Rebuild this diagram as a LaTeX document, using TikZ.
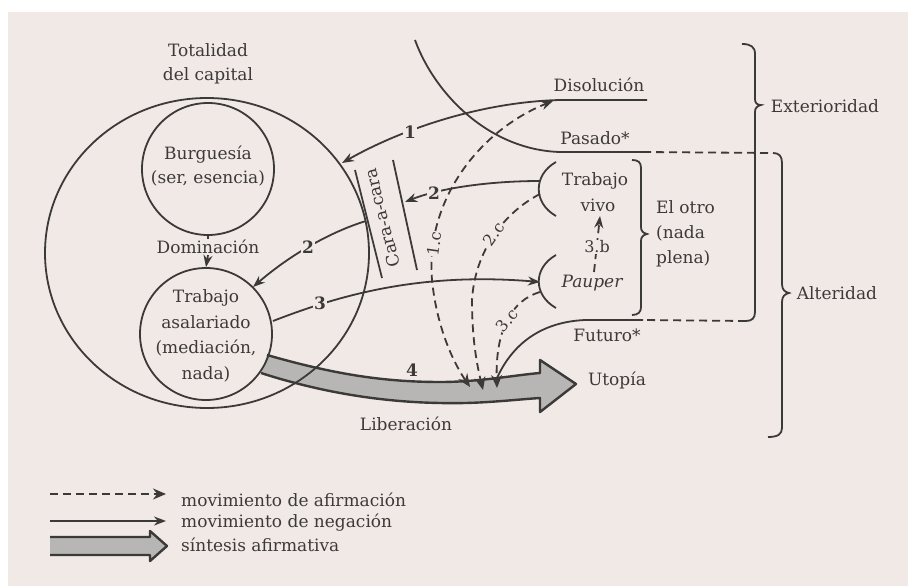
\documentclass[tikz,border=0pt]{standalone}
\usepackage{fontspec}
\setmainfont{DejaVu Serif}
\usetikzlibrary{arrows.meta,shapes.geometric}
\definecolor{bg}{RGB}{241,233,229}
\definecolor{ink}{RGB}{60,57,57}
\definecolor{band}{RGB}{184,182,181}
\begin{document}
\begin{tikzpicture}[x=1pt,y=-1pt,
  every node/.style={text=ink,font=\fontsize{17}{24.5}\selectfont,inner sep=1pt},
  lbl/.style={fill=bg,inner sep=1.5pt,font=\fontsize{17}{20}\selectfont\bfseries},
  slbl/.style={fill=bg,inner sep=0.5pt,font=\fontsize{16}{20}\selectfont},
  ln/.style={draw=ink,line width=1.8pt},
  tip/.style={-{Stealth[length=12pt,width=9pt]}},
  neg/.style={ln,tip},
  dsh/.style={dash pattern=on 8pt off 5pt},
  afi/.style={ln,dsh,-{Stealth[length=13pt,width=11pt]}},
  ring/.style={draw=ink,line width=1.8pt,circle,minimum size=132pt,inner sep=0pt},
  txt/.style={align=center},
  bandfill/.style={fill=band},
  bandline/.style={draw=ink,line width=2.4pt,line join=round}
]
\useasboundingbox (0,0) rectangle (908,586);
\fill[white] (0,0) rectangle (908,586);
\fill[bg] (8,12) rectangle (908,586);

% ---- grey synthesis arrow (4)
\fill[bandfill] (267,355) .. controls (330,373) and (380,382) .. (440,382)
  .. controls (480,382) and (515,375) .. (540,373) -- (540,360) -- (576,384)
  -- (540,412) -- (540,398) .. controls (510,400) and (480,404) .. (440,403)
  .. controls (380,402) and (320,392) .. (261,373) -- cycle;
\draw[bandline] (267,355) .. controls (330,373) and (380,382) .. (440,382)
  .. controls (480,382) and (515,375) .. (540,373) -- (540,360) -- (576,384)
  -- (540,412) -- (540,398) .. controls (510,400) and (480,404) .. (440,403)
  .. controls (380,402) and (320,392) .. (261,373);

% ---- circles
\node[draw=ink,line width=1.8pt,ellipse,minimum width=324pt,minimum height=310pt,inner sep=0pt] (cap) at (207,253) {};
\node[txt] (tot) at (208,64) {Totalidad\\del capital};
\node[ring] (bur) at (208,169) {};
\node[txt] (burt) at (208,166) {Burguesía\\(ser, esencia)};
\node[ring] (tra) at (206,334) {};
\node[txt,font=\fontsize{17}{25.5}\selectfont] (trat) at (206,336) {Trabajo\\asalariado\\(mediación,\\nada)};
\node (dom) at (208,247) {Dominación};
\draw[ln] (bur.south) -- (dom.north);
\draw[neg] (dom.south) -- (tra.north);

% ---- cara-a-cara
\coordinate (ca1) at (355,170); \coordinate (ca2) at (382,278);
\coordinate (cb1) at (393,160); \coordinate (cb2) at (417,270);
\draw[ln] (ca1) -- (ca2);
\draw[ln] (cb1) -- (cb2);
\node[rotate=104] (cac) at (382,218) {Cara-a-cara};

% ---- exteriority / past / future lines
\coordinate (extTop) at (415,40);
\coordinate (pasR) at (643,152);
\coordinate (altTop) at (773,153);
\draw[ln] (extTop) .. controls (435,95) and (490,150) .. (560,152) -- (pasR);
\draw[ln,dsh] (pasR) -- (altTop);
\draw[ln] (altTop) .. controls (779,153) and (782,156) .. (782,163) -- (782,284)
  .. controls (782,290) and (785,292) .. (789,293) .. controls (785,294) and (782,296) .. (782,302)
  -- (782,428) .. controls (782,434) and (778,437) .. (768,437);
\coordinate (extCorner) at (746,321);
\draw[ln] (742,44) .. controls (751,44) and (755,47) .. (755,54) -- (755,99)
  .. controls (755,103) and (757,105) .. (761,105) .. controls (757,106) and (755,108) .. (755,112)
  -- (755,312) .. controls (755,318) and (752,321) .. (extCorner);
\coordinate (futR) at (643,320);
\coordinate (futB) at (497,378);
\draw[ln,dsh] (extCorner) -- (futR);
\draw[ln] (futR) -- (585,320) .. controls (540,322) and (512,345) .. (futB);

% ---- el otro brace
\draw[ln] (632,160) .. controls (638,160) and (641,162) .. (641,168) -- (641,227)
  .. controls (641,231) and (643,233) .. (647,234) .. controls (643,235) and (641,237) .. (641,241)
  -- (641,307) .. controls (641,312) and (638,315) .. (632,315);

% ---- trabajo vivo / pauper
\draw[ln] (556,162) .. controls (533,175) and (533,203) .. (556,216);
\draw[ln] (556,255) .. controls (533,268) and (533,295) .. (556,308);
\coordinate (vivoA) at (540,181);
\coordinate (vivoB) at (540,194);
\coordinate (pauA) at (540,282);
\coordinate (pauB) at (540,292);
\coordinate (pauT) at (594,272);
\coordinate (vivoT) at (600,216);

% ---- negation arrows
\coordinate (disR) at (647,100);
\coordinate (disL) at (560,100);
\coordinate (c1end) at (342,163);
\draw[neg] (disR) -- (disL) .. controls (480,102) and (400,130) .. (c1end);
\coordinate (c2end) at (405,202);
\draw[neg] (vivoA) .. controls (490,181) and (440,188) .. (c2end);
\coordinate (c2s) at (366,221);
\coordinate (c2e) at (253,287);
\draw[neg] (c2s) .. controls (330,232) and (290,255) .. (c2e);
\coordinate (a3s) at (273,321);
\draw[neg] (a3s) .. controls (340,295) and (420,272) .. (pauA);

% ---- affirmation arrows
\coordinate (b1) at (470,387);
\coordinate (b2) at (483,390);
\coordinate (b3) at (497,388);
\coordinate (disA) at (553,101);
\draw[ln,dsh,{Stealth[length=13pt,width=11pt]}-{Stealth[length=12pt,width=9pt]}] (b1) .. controls (455,365) and (437,330) .. (432,280) .. controls (425,200) and (480,130) .. (disA);
\draw[afi] (vivoB) .. controls (505,212) and (475,250) .. (472,300) .. controls (472,340) and (477,365) .. (b2);
\draw[afi] (pauB) .. controls (512,300) and (495,330) .. (b3);
\draw[ln,dsh,tip] (pauT) -- (vivoT);

% ---- labels on connectors
\node[lbl] (n1) at (410,132) {1};
\node[lbl] (n2a) at (434,193) {2};
\node[lbl] (n2b) at (308,247) {2};
\node[lbl] (n3) at (320,303) {3};
\node[lbl,fill=none] (n4) at (412,370) {4};
\node[slbl,rotate=82] (n1c) at (434,244) {1.c};
\node[slbl,rotate=55] (n2c) at (494,234) {2.c};
\node[slbl,rotate=50] (n3c) at (507,320) {3.c};
\node[slbl] (n3b) at (597,247) {3.b};

% ---- texts
\node (dis) at (599,85) {Disolución};
\node (pas) at (595,138) {Pasado*};
\node (ext) at (825,106) {Exterioridad};
\node (alt) at (837,293) {Alteridad};
\node (tv1) at (595,181) {Trabajo};
\node (tv2) at (598,205) {vivo};
\node (pau) at (592,283) {\itshape Pauper};
\node[align=left,anchor=west,font=\fontsize{17}{25}\selectfont] (otro) at (655,234) {El otro\\(nada\\plena)};
\node (fut) at (607,335) {Futuro*};
\node (uto) at (617,380) {Utopía};
\node (lib) at (406,424) {Liberación};

% ---- legend
\coordinate (l1a) at (50,494); \coordinate (l1b) at (166,494);
\coordinate (l2a) at (50,521); \coordinate (l2b) at (166,521);
\draw[afi] (l1a) -- (l1b);
\draw[neg] (l2a) -- (l2b);
\fill[bandfill] (50,537) -- (150,537) -- (150,531) -- (167,546) -- (150,561) -- (150,555) -- (50,555) -- cycle;
\draw[bandline] (50,537) -- (150,537) -- (150,531) -- (167,546) -- (150,561) -- (150,555) -- (50,555);
\node[anchor=base west] (lg1) at (180,506) {movimiento de afirmación};
\node[anchor=base west] (lg2) at (180,527) {movimiento de negación};
\node[anchor=base west] (lg3) at (180,551) {síntesis afirmativa};
\end{tikzpicture}
\end{document}
